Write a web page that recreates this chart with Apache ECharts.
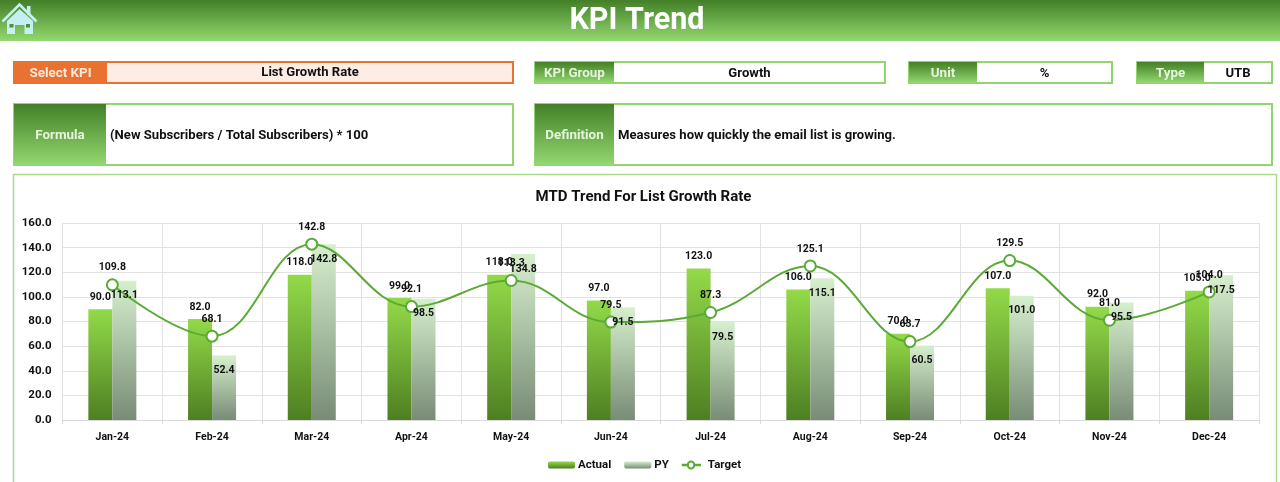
<!DOCTYPE html>
<html><head><meta charset="utf-8">
<style>html,body{margin:0;padding:0;background:#fff}#c{width:1280px;height:482px}</style>
<script src="https://cdn.jsdelivr.net/npm/echarts@6/dist/echarts.min.js"></script>
</head><body><div id="c"></div>
<script>
const categories=['Jan-24','Feb-24','Mar-24','Apr-24','May-24','Jun-24','Jul-24','Aug-24','Sep-24','Oct-24','Nov-24','Dec-24'];
const actual=[90,82,118,99,118,97,123,106,70,107,92,105];
const py=[113.1,52.4,142.8,98.5,134.8,91.5,79.5,115.1,60.5,101,95.5,117.5];
const target=[109.8,68.1,142.8,92.1,113.3,79.5,87.3,125.1,63.7,129.5,81,104];
const yTicks=[0,20,40,60,80,100,120,140,160];

const FONT='Roboto';
const G=(a,b)=>new echarts.graphic.LinearGradient(0,0,0,1,[{offset:0,color:a},{offset:1,color:b}]);
const hdrG=()=>G('#437F27','#93D870');
const BORDER='#92D46E';
const ICON='#C4F0F2';
function box(x,y,w,h,stroke,lw,fill){return {type:'rect',silent:true,shape:{x:x+lw/2,y:y+lw/2,width:w-lw,height:h-lw},style:{fill:fill||'#fff',stroke,lineWidth:lw}};}
function fillRect(x,y,w,h,fill){return {type:'rect',silent:true,shape:{x,y,width:w,height:h},style:{fill}};}
function txt(x,y,t,o){o=o||{};return {type:'text',silent:true,x,y,style:{text:t,fill:o.fill||'#111',font:(o.weight||'bold')+' '+(o.size||13.1)+'px '+FONT,align:o.align||'center',verticalAlign:'middle'}};}
function field(x,y,w,h,lw,label,value,left){
  const out=[box(x,y,w,h,BORDER,2),fillRect(x+1,y+1,lw,h-2,hdrG()),txt(x+1+lw/2,y+h/2+1,label,{fill:'#E6F4DE',size:13.4})];
  if(left) out.push(txt(x+lw+5,y+h/2+1,value,{align:'left'}));
  else out.push(txt(x+lw+(w-lw)/2,y+h/2+1,value));
  return out;
}
const graphics=[
  fillRect(0,0,1280,41,hdrG()),
  txt(637,21,'KPI Trend',{fill:'#fff',size:30.5}),
  // home icon
  fillRect(27,6,3.5,9,ICON),
  {type:'polyline',silent:true,shape:{points:[[2.5,21.5],[19.5,4.5],[36.5,21.5]]},style:{fill:'none',stroke:ICON,lineWidth:2.6}},
  {type:'polygon',silent:true,shape:{points:[[7,21],[19.5,9],[33,21],[33,34],[24.5,34],[24.5,25],[15,25],[15,34],[7,34]]},style:{fill:ICON}},
  fillRect(9.5,24,4,3.5,'#4F8F3A'),fillRect(26,24,4,3.5,'#4F8F3A'),
  // select KPI
  box(13,61,501,23,'#E97132',2,'#FDEDE4'),
  fillRect(14,62,93,21,'#E97132'),
  txt(60.5,73.5,'Select KPI',{fill:'#FBE9DD',size:13.4}),
  txt(310,73,'List Growth Rate'),
  ...field(534,61,352,23,79,'KPI Group','Growth'),
  ...field(908,61,205,23,68,'Unit','%'),
  ...field(1136,61,137,23,67,'Type','UTB'),
  ...field(13,103,501,63,92,'Formula','(New Subscribers / Total Subscribers) * 100',true),
  ...field(534,103,739,63,79,'Definition','Measures how quickly the email list is growing.',true),
  {type:'rect',silent:true,z:-1,shape:{x:13.5,y:174.5,width:1263,height:320},style:{fill:'#fff',stroke:'#A9DB8F',lineWidth:1.5}}
];

const lblCommon={show:true,color:'#111',fontFamily:FONT,fontWeight:'bold',fontSize:10.5,formatter:p=>p.value.toFixed(1)};
// invisible line carrying a bar's labels, so they sit above the Target line
const labelCarrier=(name,data,label)=>({name,type:'line',data,symbol:'circle',symbolSize:1,showAllSymbol:true,z:6,silent:true,lineStyle:{color:'rgba(0,0,0,0)',width:0},itemStyle:{color:'rgba(0,0,0,0)',borderWidth:0},label:{...lblCommon,...label}});
const chart=echarts.init(document.getElementById('c'));
chart.setOption({
  animation:false,
  backgroundColor:'#fff',
  title:{text:'MTD Trend For List Growth Rate',left:643.5,top:197,padding:0,textAlign:'center',textVerticalAlign:'middle',textStyle:{fontFamily:FONT,fontWeight:'bold',fontSize:15,color:'#111'}},
  legend:{left:548,top:459,padding:0,itemGap:13,itemWidth:27,itemHeight:7,data:['Actual','PY',{name:'Target',icon:'path://M0 9 H8 A5 5 0 1 1 18 9 H27 V10 H18 A5 5 0 1 1 8 10 H0 Z'}],textStyle:{fontFamily:FONT,fontWeight:'bold',fontSize:11.5,color:'#111',padding:[1,0,0,-2]}},
  grid:{left:62.5,right:21,top:223,bottom:62,containLabel:false},
  xAxis:{type:'category',data:categories,boundaryGap:true,
    axisLine:{lineStyle:{color:'#D9D9D9'}},
    axisTick:{show:true,alignWithLabel:false,length:4,lineStyle:{color:'#D9D9D9'}},
    splitLine:{show:true,lineStyle:{color:'#E2E2E2'}},
    axisLabel:{color:'#111',fontFamily:FONT,fontWeight:'bold',fontSize:10.5,margin:12}},
  yAxis:{type:'value',min:0,max:160,interval:yTicks[1]-yTicks[0],
    axisLine:{show:false},axisTick:{show:false},
    splitLine:{lineStyle:{color:'#E2E2E2'}},
    axisLabel:{color:'#111',fontFamily:FONT,fontWeight:'bold',fontSize:11.5,margin:11,formatter:v=>v.toFixed(1)}},
  series:[
    {name:'Actual',type:'bar',data:actual,barWidth:24,barGap:'0%',itemStyle:{color:G('#93DA49','#4E7F22')}},
    {name:'PY',type:'bar',data:py,barWidth:24,itemStyle:{color:G('#D6EFCD','#788C76')}},
    {name:'Target',type:'line',data:target,smooth:0.4,symbol:'circle',symbolSize:11,showAllSymbol:true,z:5,
      lineStyle:{color:'#5AAA35',width:2},
      itemStyle:{color:'#fff',borderColor:'#5AAA35',borderWidth:2},
      label:{...lblCommon,position:'top',distance:5}},
    labelCarrier('Actual labels',actual,{position:'top',distance:6,offset:[-12,0]}),
    labelCarrier('PY labels',py,{position:'bottom',distance:9,offset:[12,0]})
  ],
  graphic:graphics
});
</script></body></html>
